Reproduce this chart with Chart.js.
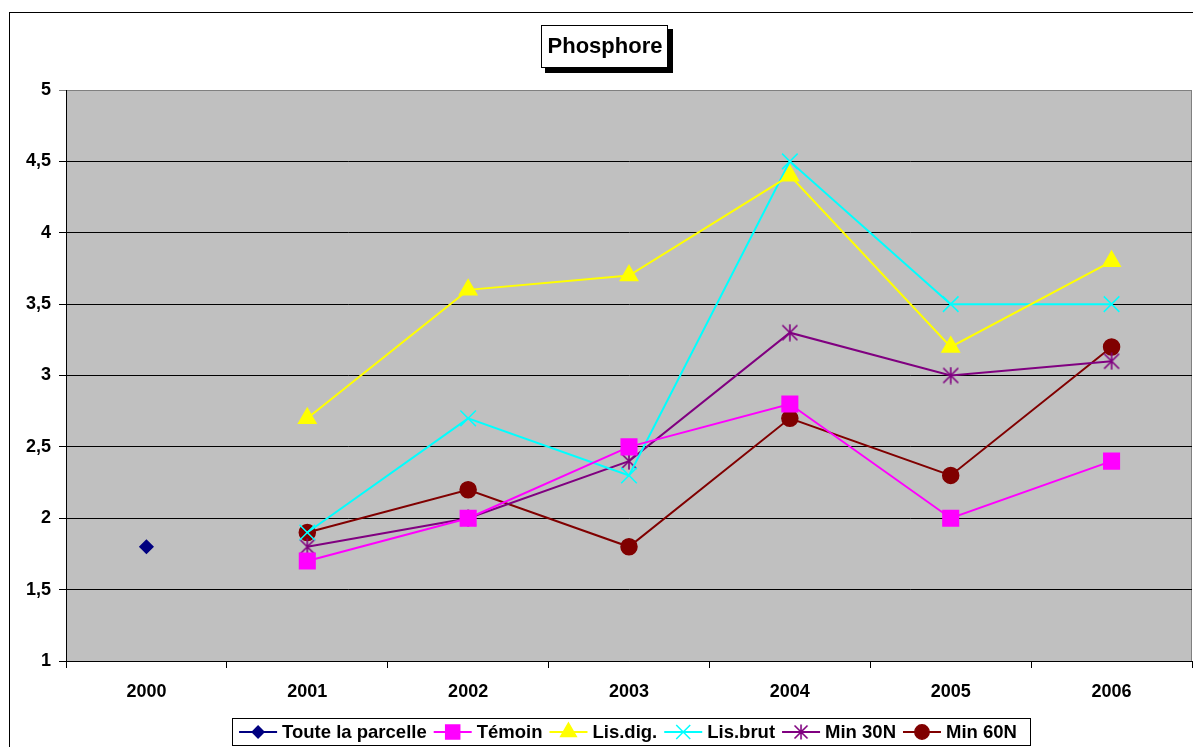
<!DOCTYPE html>
<html><head><meta charset="utf-8">
<script src="https://cdn.jsdelivr.net/npm/chart.js@4.4.1/dist/chart.umd.min.js"></script>
<style>html,body{margin:0;padding:0;background:#fff;}#wrap{width:1193px;height:747px;position:relative;}</style>
</head><body><div id="wrap"><canvas id="c" width="1193" height="747"></canvas></div>
<script>
const categories = ['2000','2001','2002','2003','2004','2005','2006'];
const touteLaParcelle = [1.8, null, null, null, null, null, null];
const temoin  = [null, 1.7, 2.0, 2.5, 2.8, 2.0, 2.4];
const lisDig  = [null, 2.7, 3.6, 3.7, 4.4, 3.2, 3.8];
const lisBrut = [null, 1.9, 2.7, 2.3, 4.5, 3.5, 3.5];
const min30N  = [null, 1.8, 2.0, 2.4, 3.3, 3.0, 3.1];
const min60N  = [null, 1.9, 2.2, 1.8, 2.7, 2.3, 3.2];
const seriesNames = ['Toute la parcelle','Témoin','Lis.dig.','Lis.brut','Min 30N','Min 60N'];
const titleText = 'Phosphore';
const FONT = '"Liberation Sans", Arial, sans-serif';

// asterisk marker
function makeAst(size){
  const c = document.createElement('canvas');
  c.width = size; c.height = size;
  const g=c.getContext('2d');g.strokeStyle='#800080';g.lineWidth=1.6;g.beginPath();
  const m=1.5,h=size/2;
  g.moveTo(m,m);g.lineTo(size-m,size-m);g.moveTo(size-m,m);g.lineTo(m,size-m);g.moveTo(h,0.5);g.lineTo(h,size-0.5);g.stroke();
  return c;
}
const ast = makeAst(18);
const astSmall = makeAst(16);

function ds(label,data,color,style,radius){
  return {label,data,borderColor:color,backgroundColor:color,pointBackgroundColor:color,pointBorderColor:color,
    pointStyle:style,pointRadius:radius,pointHoverRadius:radius,borderWidth:2,pointBorderWidth:1.5,
    spanGaps:false,tension:0,fill:false};
}
const datasets = [
  ds(seriesNames[0],touteLaParcelle,'#000080','rectRot',6.5),
  ds(seriesNames[1],temoin,'#FF00FF','rect',11),
  ds(seriesNames[2],lisDig,'#FFFF00','triangle',10),
  ds(seriesNames[3],lisBrut,'#00FFFF','crossRot',11),
  ds(seriesNames[4],min30N,'#800080',ast,9),
  ds(seriesNames[5],min60N,'#800000','circle',8)
];

const deco = {
  id:'deco',
  beforeDraw(chart){
    const {ctx,chartArea:a}=chart;
    ctx.save();
    ctx.fillStyle='#fff';ctx.fillRect(0,0,chart.width,chart.height);
    ctx.strokeStyle='#000';ctx.lineWidth=1;
    ctx.strokeRect(9.5,12.5,1300,1000);
    ctx.fillStyle='#C0C0C0';ctx.fillRect(a.left,a.top,a.right-a.left,a.bottom-a.top);
    ctx.strokeStyle='#808080';ctx.strokeRect(a.left+0.5,a.top+0.5,a.right-a.left-1,a.bottom-a.top);
    ctx.restore();
  },
  afterDraw(chart){
    const ctx=chart.ctx;
    ctx.save();
    // title
    ctx.fillStyle='#000';ctx.fillRect(545,29,128,44);
    ctx.fillStyle='#fff';ctx.fillRect(541,25,127,43);
    ctx.strokeStyle='#000';ctx.lineWidth=1;ctx.strokeRect(541.5,25.5,126,42);
    ctx.font='bold 22px '+FONT;ctx.textAlign='center';ctx.textBaseline='middle';ctx.fillStyle='#000';
    ctx.fillText(titleText,605,47);
    // legend
    ctx.font='bold 18.5px '+FONT;ctx.textAlign='left';
    const lineLen=38,g1=5,g2=7;
    let total=0;const widths=[];
    chart.data.datasets.forEach(d=>{const w=ctx.measureText(d.label).width;widths.push(w);total+=lineLen+g1+w+g2;});
    total-=g2;
    const boxL=232,boxR=1030,ly=732;
    ctx.fillStyle='#fff';ctx.fillRect(boxL,718,boxR-boxL,28);
    ctx.strokeStyle='#000';ctx.lineWidth=1;ctx.strokeRect(boxL+0.5,718.5,boxR-boxL,27);
    let x=(boxL+boxR)/2-total/2-3;
    chart.data.datasets.forEach((d,i)=>{
      ctx.strokeStyle=d.borderColor;ctx.lineWidth=2;ctx.beginPath();ctx.moveTo(x,ly);ctx.lineTo(x+lineLen,ly);ctx.stroke();
      ctx.fillStyle=d.backgroundColor;ctx.strokeStyle=d.borderColor;ctx.lineWidth=1.5;
      const ps = d.pointStyle===ast ? astSmall : d.pointStyle;
      Chart.helpers.drawPoint(ctx,{pointStyle:ps,radius:d.pointRadius*0.9,borderWidth:1.5},x+lineLen/2,ly);
      ctx.fillStyle='#000';ctx.fillText(d.label,x+lineLen+g1,ly+1);
      x+=lineLen+g1+widths[i]+g2;
    });
    ctx.restore();
  }
};

new Chart(document.getElementById('c'),{
  type:'line',
  data:{labels:categories,datasets},
  plugins:[deco],
  options:{
    responsive:false,animation:false,
    layout:{autoPadding:false,padding:{top:90,right:1,left:0,bottom:0}},
    plugins:{legend:{display:false},title:{display:false},tooltip:{enabled:false}},
    scales:{
      x:{offset:true,
        grid:{offset:true,drawOnChartArea:false,drawTicks:true,tickLength:7,color:'#000'},
        border:{color:'#000',width:1},
        ticks:{color:'#000',font:{family:FONT,size:18,weight:'bold'},padding:13,maxRotation:0},
        afterFit(s){s.height=86;s.paddingLeft=0;s.paddingRight=0;}
      },
      y:{min:1,max:5,
        grid:{color:(c)=>c.tick&&c.tick.value===5?'#808080':'#000',tickLength:7,drawTicks:true},
        border:{color:'#000',width:1},
        ticks:{stepSize:0.5,color:'#000',font:{family:FONT,size:18,weight:'bold'},padding:8,
          callback:(v)=>String(v).replace('.',',')},
        afterFit(s){s.width=66;s.paddingTop=0;s.paddingBottom=0;}
      }
    }
  }
});
</script></body></html>
